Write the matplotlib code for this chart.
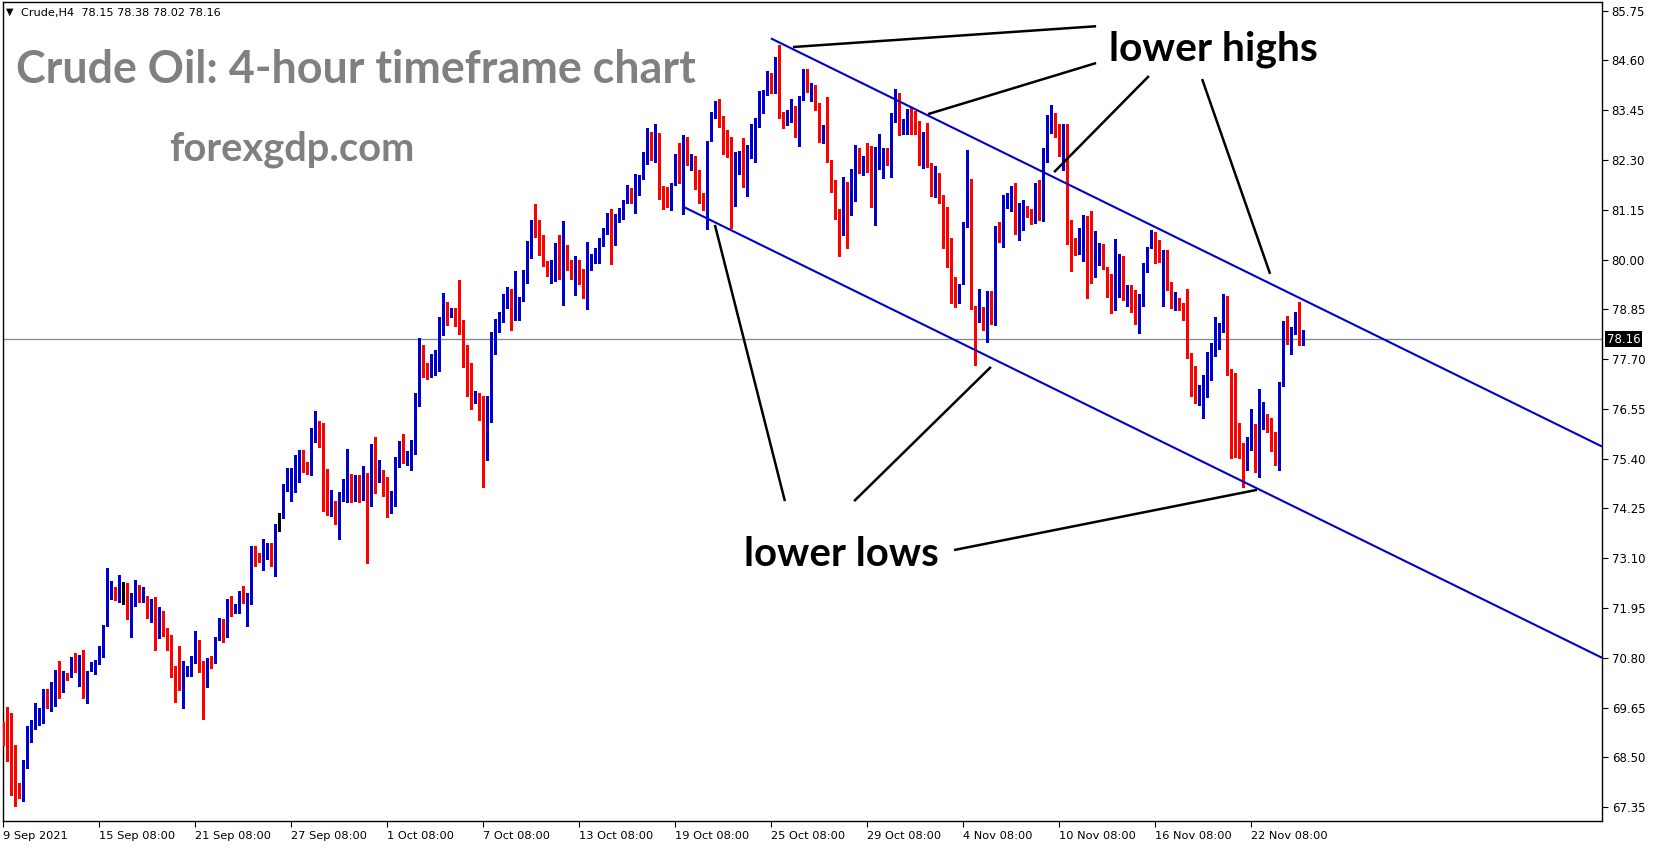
import matplotlib
matplotlib.use('Agg')
import matplotlib.pyplot as plt
import matplotlib.transforms as mtransforms
import numpy as np

W, H = 1653, 850

bar_open = [69.07, 68.99, 68.66, 68.61, 67.78, 67.73, 68.26, 69.04, 69.23, 69.34,
            69.39, 69.96, 69.73, 70.13, 70.44, 70.13, 70.39, 70.36, 70.75, 70.54,
            70.86, 69.94, 70.50, 70.63, 70.66, 70.92, 71.54, 72.33, 72.37, 72.19,
            72.48, 72.48, 71.96, 72.10, 72.27, 72.12, 72.18, 71.90, 72.15, 71.70,
            71.74, 71.49, 71.12, 70.50, 70.38, 70.09, 70.37, 70.52, 70.75, 71.10,
            70.52, 70.17, 70.78, 70.75, 71.21, 71.60, 71.37, 71.97, 71.83, 71.91,
            72.28, 72.14, 72.19, 73.31, 73.14, 73.06, 73.20, 73.41, 72.98, 73.87,
            74.14, 74.77, 74.79, 74.91, 75.18, 75.32, 75.26, 75.12, 75.91, 76.20,
            75.77, 74.60, 74.16, 74.42, 74.08, 74.59, 74.65, 75.02, 74.60, 74.91,
            74.58, 75.00, 74.58, 75.62, 74.89, 75.15, 74.65, 74.40, 74.55, 75.25,
            75.78, 75.42, 75.45, 75.58, 76.75, 77.91, 77.38, 77.32, 77.52, 77.66,
            78.60, 78.78, 78.74, 78.86, 78.76, 78.49, 77.72, 77.26, 76.72, 76.87,
            76.54, 75.48, 76.62, 77.89, 78.47, 78.68, 79.00, 79.29, 78.83, 78.92,
            79.06, 79.64, 80.33, 80.91, 80.76, 80.57, 79.96, 79.62, 79.95, 80.08,
            79.72, 79.93, 79.87, 79.74, 79.87, 79.49, 79.26, 79.91, 79.91, 80.01,
            80.33, 80.64, 81.03, 80.41, 80.95, 81.16, 81.31, 81.38, 81.31, 81.50,
            81.95, 82.31, 82.80, 82.47, 82.80, 81.47, 81.47, 81.26, 81.74, 82.37,
            81.89, 82.80, 82.28, 82.35, 81.85, 81.49, 81.30, 82.74, 83.32, 83.59,
            83.22, 82.85, 82.82, 81.37, 82.30, 82.44, 81.86, 82.49, 83.01, 83.07,
            83.64, 83.84, 84.24, 84.22, 84.62, 83.31, 83.32, 83.37, 83.54, 82.91,
            83.74, 84.26, 83.89, 83.98, 83.61, 82.91, 83.11, 82.27, 81.73, 81.16,
            80.76, 81.70, 81.24, 81.37, 82.47, 82.07, 82.28, 82.16, 81.41, 82.28,
            82.22, 82.51, 82.28, 83.17, 83.72, 83.01, 83.01, 83.47, 83.26, 83.15,
            82.47, 82.93, 82.22, 81.49, 81.76, 81.49, 80.99, 80.03, 79.37, 79.10,
            79.43, 80.76, 81.84, 78.93, 78.56, 78.72, 78.35, 78.99, 78.56, 80.70,
            80.28, 81.23, 81.36, 81.55, 80.77, 80.95, 81.17, 81.13, 81.05, 81.77,
            80.91, 82.31, 83.16, 83.34, 83.11, 82.57, 83.12, 80.46, 80.28, 80.18,
            80.37, 80.99, 80.04, 79.74, 80.10, 80.23, 79.82, 79.56, 79.14, 79.64,
            79.70, 79.14, 79.27, 78.87, 78.69, 78.92, 79.73, 80.26, 80.36, 80.22,
            80.05, 80.12, 79.47, 78.87, 78.96, 78.92, 78.85, 77.79, 77.53, 76.87,
            77.05, 77.05, 77.56, 77.99, 78.13, 78.33, 78.86, 77.47, 76.26, 75.87,
            75.56, 75.28, 75.60, 75.97, 75.72, 76.08, 76.26, 76.26, 75.69, 75.47,
            77.09, 78.41, 78.22, 78.37, 78.53, 78.15]

bar_high = [69.32, 69.67, 69.53, 68.79, 67.91, 68.44, 69.23, 69.36, 69.75, 69.65,
            70.08, 70.09, 70.25, 70.52, 70.73, 70.50, 70.46, 70.82, 70.90, 70.86,
            70.98, 70.50, 70.71, 70.75, 71.07, 71.56, 72.87, 72.57, 72.44, 72.71,
            72.56, 72.52, 72.29, 72.60, 72.48, 72.44, 72.23, 72.17, 72.20, 71.98,
            71.87, 71.49, 71.33, 70.60, 71.07, 70.73, 70.62, 70.84, 71.42, 71.21,
            70.73, 70.79, 70.84, 71.27, 71.71, 71.70, 72.15, 72.23, 72.04, 72.35,
            72.46, 72.29, 73.38, 73.38, 73.21, 73.55, 73.46, 73.45, 73.89, 74.14,
            74.81, 75.18, 75.18, 75.49, 75.60, 75.60, 75.32, 76.12, 76.50, 76.27,
            76.23, 75.16, 74.68, 74.42, 74.62, 74.93, 75.62, 75.04, 75.02, 75.02,
            75.23, 75.06, 75.74, 75.89, 75.37, 75.15, 74.98, 74.65, 75.43, 75.81,
            75.97, 75.58, 75.83, 76.92, 78.19, 78.02, 77.62, 77.82, 77.91, 78.68,
            79.22, 79.02, 78.89, 78.89, 79.53, 78.60, 78.02, 77.60, 76.97, 76.91,
            76.85, 76.85, 78.33, 78.62, 78.79, 79.20, 79.37, 79.31, 79.74, 79.13,
            79.76, 80.43, 80.91, 81.28, 80.91, 80.57, 79.96, 79.99, 80.39, 80.57,
            80.89, 80.33, 79.99, 80.08, 79.99, 79.79, 80.41, 80.14, 80.26, 80.49,
            80.72, 81.07, 81.16, 81.05, 81.18, 81.37, 81.73, 81.66, 81.97, 81.95,
            82.49, 83.03, 82.95, 83.13, 82.93, 81.70, 81.68, 81.77, 82.44, 82.70,
            82.87, 82.84, 82.45, 82.39, 82.07, 81.53, 82.74, 83.41, 83.67, 83.71,
            83.32, 83.00, 82.82, 82.49, 82.51, 82.80, 82.64, 83.14, 83.28, 83.90,
            83.91, 84.35, 84.30, 84.67, 84.95, 83.41, 83.45, 83.72, 83.54, 83.78,
            84.41, 84.41, 84.07, 84.03, 83.61, 83.11, 83.76, 82.30, 81.84, 81.16,
            81.91, 81.80, 82.10, 82.64, 82.57, 82.39, 82.70, 82.62, 82.60, 82.91,
            82.57, 82.57, 83.39, 83.95, 83.84, 83.24, 83.47, 83.53, 83.43, 83.20,
            82.95, 83.16, 82.22, 82.16, 81.99, 81.49, 81.22, 80.49, 79.60, 79.43,
            80.87, 82.53, 81.87, 78.93, 79.33, 78.91, 79.28, 79.28, 80.78, 80.87,
            81.50, 81.54, 81.70, 81.76, 81.31, 81.37, 81.23, 81.16, 81.77, 81.84,
            82.57, 83.34, 83.57, 83.38, 83.14, 83.14, 83.14, 80.91, 80.50, 80.72,
            81.03, 81.00, 81.13, 80.66, 80.39, 80.37, 79.83, 79.66, 80.47, 80.12,
            80.08, 79.41, 79.41, 79.29, 79.20, 79.91, 80.30, 80.68, 80.64, 80.45,
            80.23, 80.23, 79.49, 79.26, 79.12, 78.99, 79.32, 77.83, 77.53, 77.10,
            77.33, 77.87, 78.08, 78.68, 78.53, 79.20, 79.16, 77.47, 77.37, 76.22,
            75.76, 75.89, 76.55, 76.20, 77.02, 76.72, 76.43, 76.35, 76.02, 77.18,
            78.59, 78.70, 78.45, 78.80, 79.03, 78.38]

bar_low = [68.79, 68.42, 67.63, 67.38, 67.57, 67.50, 68.26, 68.86, 69.15, 69.25,
           69.30, 69.65, 69.58, 69.69, 69.88, 70.01, 70.29, 70.36, 70.47, 70.16,
           69.88, 69.76, 70.50, 70.43, 70.66, 70.81, 71.54, 72.16, 72.13, 72.10,
           72.04, 71.70, 71.29, 72.00, 72.08, 72.09, 71.73, 71.63, 70.98, 71.26,
           71.31, 70.98, 70.35, 69.79, 70.06, 69.65, 70.37, 70.38, 70.67, 70.48,
           69.38, 70.13, 70.56, 70.67, 71.20, 71.17, 71.29, 71.77, 71.83, 71.84,
           72.07, 71.54, 72.04, 72.93, 73.01, 72.83, 73.08, 72.91, 72.69, 73.73,
           74.04, 74.66, 74.43, 74.62, 74.87, 75.10, 75.05, 75.02, 75.79, 75.68,
           74.20, 74.10, 74.08, 73.89, 73.55, 74.43, 74.40, 74.40, 74.42, 74.40,
           74.45, 72.98, 74.30, 74.61, 74.87, 74.54, 74.05, 74.15, 74.30, 75.21,
           75.31, 75.25, 75.15, 75.51, 76.62, 77.29, 77.25, 77.28, 77.33, 77.43,
           78.26, 78.49, 78.68, 78.47, 78.29, 77.52, 76.85, 76.55, 76.68, 76.29,
           74.74, 75.37, 76.25, 77.82, 78.33, 78.56, 78.89, 78.37, 78.60, 78.60,
           79.05, 79.46, 80.04, 80.53, 80.10, 79.86, 79.62, 79.46, 79.51, 79.55,
           78.95, 79.76, 79.55, 79.18, 79.43, 79.12, 78.85, 79.77, 79.91, 79.91,
           80.32, 80.60, 79.89, 80.33, 80.87, 80.93, 81.30, 81.30, 81.08, 81.49,
           81.87, 82.20, 82.30, 82.26, 81.39, 81.16, 81.22, 81.14, 81.72, 81.76,
           81.05, 82.18, 82.08, 81.64, 81.30, 81.14, 80.70, 82.74, 83.28, 83.07,
           82.45, 82.36, 80.72, 81.24, 81.97, 81.68, 81.47, 82.34, 82.26, 83.07,
           83.38, 83.81, 83.85, 83.84, 83.28, 83.05, 83.12, 83.18, 82.82, 82.63,
           83.68, 83.88, 83.67, 83.45, 82.71, 82.70, 82.26, 81.57, 80.93, 80.09,
           80.56, 80.27, 81.03, 81.36, 82.00, 81.95, 82.03, 81.22, 80.80, 82.10,
           81.89, 82.18, 81.91, 83.17, 82.88, 82.90, 82.90, 82.91, 82.91, 82.18,
           82.12, 82.14, 81.47, 81.45, 81.30, 80.27, 79.83, 79.00, 78.91, 79.00,
           79.43, 80.76, 78.85, 77.56, 78.56, 78.37, 78.10, 78.51, 78.49, 80.41,
           80.28, 81.18, 81.13, 80.60, 80.45, 80.68, 80.99, 80.81, 80.85, 80.91,
           80.90, 82.26, 82.93, 82.84, 82.39, 82.08, 80.36, 79.74, 80.10, 80.14,
           79.97, 79.12, 79.47, 79.60, 79.87, 79.79, 79.14, 78.77, 78.83, 79.14,
           79.06, 78.92, 78.79, 78.52, 78.31, 78.92, 79.72, 80.26, 79.91, 79.95,
           78.92, 79.29, 78.87, 78.83, 78.83, 78.60, 77.72, 76.85, 76.69, 76.64,
           76.33, 76.83, 77.22, 77.77, 77.93, 78.33, 77.33, 75.41, 75.45, 75.41,
           74.75, 75.15, 75.60, 75.10, 74.98, 76.08, 76.02, 75.58, 75.25, 75.14,
           77.09, 78.05, 77.82, 78.28, 78.03, 78.02]

bar_close = [69.02, 68.61, 68.60, 67.73, 67.73, 68.30, 69.04, 69.25, 69.36, 69.39,
             69.96, 69.73, 70.15, 70.44, 70.13, 70.47, 70.37, 70.75, 70.52, 70.85,
             69.94, 70.47, 70.63, 70.70, 70.93, 71.56, 72.34, 72.48, 72.19, 72.48,
             72.48, 71.98, 72.11, 72.34, 72.11, 72.18, 71.89, 72.15, 71.70, 71.74,
             71.46, 71.10, 70.48, 70.39, 70.09, 70.52, 70.52, 70.77, 71.10, 70.48,
             70.17, 70.77, 70.77, 71.21, 71.58, 71.37, 71.94, 71.87, 71.92, 72.29,
             72.14, 72.20, 73.31, 73.14, 73.06, 73.21, 73.41, 73.00, 73.87, 73.87,
             74.79, 74.83, 74.91, 75.18, 75.32, 75.28, 75.12, 75.91, 76.18, 75.77,
             74.59, 74.10, 74.42, 74.08, 74.60, 74.66, 75.00, 74.47, 74.92, 74.58,
             75.00, 74.58, 75.60, 74.87, 75.15, 74.64, 74.40, 74.55, 75.25, 75.58,
             75.43, 75.46, 75.60, 76.75, 77.91, 77.43, 77.32, 77.54, 77.68, 78.62,
             78.78, 78.72, 78.86, 78.74, 78.47, 77.70, 77.22, 76.75, 76.87, 76.52,
             75.48, 76.62, 77.89, 78.56, 78.72, 79.02, 79.31, 78.85, 78.92, 79.05,
             79.64, 80.36, 80.91, 80.72, 80.53, 79.96, 79.62, 79.95, 80.08, 79.72,
             79.91, 79.89, 79.74, 79.85, 79.46, 79.26, 79.93, 80.00, 80.01, 80.36,
             80.66, 81.03, 80.41, 80.97, 81.18, 81.31, 81.39, 81.31, 81.50, 81.83,
             82.32, 82.80, 82.49, 82.80, 81.43, 81.41, 81.28, 81.76, 82.40, 81.90,
             82.80, 82.32, 82.35, 81.85, 81.49, 81.30, 82.74, 83.36, 83.59, 83.21,
             82.84, 82.78, 81.37, 82.37, 82.44, 81.86, 82.30, 83.01, 83.08, 83.85,
             83.81, 84.21, 84.20, 84.61, 83.30, 83.28, 83.36, 83.53, 82.93, 83.74,
             84.24, 84.01, 84.01, 83.61, 82.93, 83.11, 82.26, 81.58, 81.14, 80.76,
             81.74, 81.24, 81.40, 82.57, 82.08, 82.28, 82.16, 81.43, 82.30, 82.53,
             82.51, 82.41, 83.17, 83.70, 83.01, 83.13, 83.45, 83.25, 83.15, 82.47,
             82.93, 82.26, 81.49, 81.76, 81.49, 81.00, 80.01, 79.26, 79.16, 79.43,
             80.78, 81.82, 78.91, 78.64, 78.72, 78.56, 78.99, 78.56, 80.72, 80.51,
             81.23, 81.36, 81.55, 80.78, 80.99, 81.30, 81.10, 81.04, 81.77, 80.91,
             82.32, 83.27, 83.34, 83.09, 82.57, 83.12, 80.46, 80.16, 80.20, 80.37,
             80.99, 80.04, 79.74, 80.16, 80.23, 79.82, 79.49, 79.14, 79.64, 79.78,
             79.14, 79.27, 78.83, 78.69, 78.95, 79.87, 80.26, 80.36, 80.22, 80.06,
             80.12, 79.51, 78.99, 78.96, 78.91, 78.83, 77.76, 77.20, 76.87, 77.05,
             77.07, 77.56, 78.00, 78.20, 78.33, 78.86, 77.47, 76.26, 75.85, 75.52,
             75.28, 75.60, 75.98, 75.72, 76.14, 76.22, 76.22, 75.69, 75.49, 77.10,
             78.41, 78.36, 78.39, 78.53, 78.16, 78.16]

price_ticks = [67.35, 68.50, 69.65, 70.80, 71.95, 73.10, 74.25, 75.40, 76.55,
               77.70, 78.85, 80.00, 81.15, 82.30, 83.45, 84.60, 85.75]
date_tick_bars = [0, 24, 48, 72, 96, 120, 144, 168, 192, 216, 240, 264, 288, 312]
date_tick_labels = ['9 Sep 2021', '15 Sep 08:00', '21 Sep 08:00', '27 Sep 08:00',
                    '1 Oct 08:00', '7 Oct 08:00', '13 Oct 08:00', '19 Oct 08:00',
                    '25 Oct 08:00', '29 Oct 08:00', '4 Nov 08:00', '10 Nov 08:00',
                    '16 Nov 08:00', '22 Nov 08:00']
last_price = 78.16
header_text = 'Crude,H4  78.15 78.38 78.02 78.16'

# channel (bar index, price)
upper_channel_x = [191.9, 399.7]
upper_channel_y = [85.11, 75.68]
lower_channel_x = [170.0, 399.7]
lower_channel_y = [81.22, 70.80]

# annotation pointer lines (bar index, price)
pointer_lines = [
    ([197.4, 273.2], [84.91, 85.39]),
    ([231.2, 273.2], [83.36, 84.54]),
    ([262.7, 286.4], [82.02, 84.24]),
    ([299.7, 316.7], [84.17, 79.67]),
    ([177.9, 195.4], [80.80, 74.42]),
    ([212.7, 246.9], [74.42, 77.52]),
    ([237.7, 313.4], [73.29, 74.68]),
]

BLUE = '#0000CD'
RED = '#FF0000'

fig = plt.figure(figsize=(W / 100, H / 100), dpi=100)
fig.patch.set_facecolor('white')
ax = fig.add_axes([3 / W, 1 - 821 / H, (1602 - 3) / W, (821 - 2) / H])
ax.set_facecolor('white')

o = np.array(bar_open)
hh = np.array(bar_high)
ll = np.array(bar_low)
c = np.array(bar_close)
idx = np.arange(len(o))
cols = np.where(np.abs(c - o) < 0.005, 'black', np.where(c > o, BLUE, RED))

ax.vlines(idx, ll, hh, colors=cols, linewidth=0.8, antialiased=False, zorder=3)
body_bottom = np.minimum(o, c)
body_h = np.maximum(np.abs(c - o), 0.03)
ax.bar(idx, body_h, bottom=body_bottom, width=0.8, color=cols, linewidth=0,
       antialiased=False, zorder=4)

ax.axhline(last_price, color='#778899', linewidth=0.9, zorder=2)

ax.plot(upper_channel_x, upper_channel_y, color='#0000CC', linewidth=1.5, zorder=5,
        solid_capstyle='butt')
ax.plot(lower_channel_x, lower_channel_y, color='#0000CC', linewidth=1.5, zorder=5,
        solid_capstyle='butt')
for px, py in pointer_lines:
    ax.plot(px, py, color='black', linewidth=1.8, zorder=6, solid_capstyle='butt')

ax.set_xlim(-0.075, 399.675)
ax.set_ylim(67.03, 85.95)

ax.yaxis.tick_right()
ax.set_yticks(price_ticks)
ax.set_yticklabels([f'{v:.2f}' for v in price_ticks])
ax.tick_params(axis='y', direction='out', length=4, width=0.8, pad=3,
               labelsize=8.5, colors='black')
ax.set_xticks(date_tick_bars)
ax.set_xticklabels(date_tick_labels)
ax.tick_params(axis='x', direction='out', length=4, width=0.8, pad=3,
               labelsize=8.2)
for lab in ax.get_xticklabels():
    lab.set_horizontalalignment('left')
    lab.set_family('DejaVu Sans')
for lab in ax.get_yticklabels():
    lab.set_family('DejaVu Sans')
for s in ax.spines.values():
    s.set_color('black')
    s.set_linewidth(1.0)

# current price tag
ax.annotate(f'{last_price:.2f}', xy=(1.0, last_price),
            xycoords=mtransforms.blended_transform_factory(ax.transAxes, ax.transData),
            xytext=(3.5, 0), textcoords='offset points', ha='left', va='center',
            fontsize=8.5, color='white', family='DejaVu Sans',
            bbox=dict(facecolor='black', edgecolor='none', pad=1.2))

renderer = fig.canvas.get_renderer()


def fit_text(x_px, base_px, s, target_w, **kw):
    t = fig.text(x_px / W, 1 - base_px / H, s, ha='left', va='baseline',
                 fontsize=30, **kw)
    w = t.get_window_extent(renderer=renderer).width
    t.set_fontsize(30 * target_w / w)
    return t


fit_text(16, 83, 'Crude Oil: 4-hour timeframe chart', 680,
         family='Lato', weight='bold', color='#808080')
fit_text(169, 160, 'forexgdp.com', 245, family='Lato', weight='bold', color='#808080')
fit_text(1109, 61, 'lower highs', 209, family='Lato', weight='bold', color='black')
fit_text(744, 566, 'lower lows', 194, family='Lato', weight='bold', color='black')

fig.text(6 / W, 1 - 12 / H, '\u25BC', ha='left', va='center', fontsize=7,
         family='DejaVu Sans', color='black')
fit_text(21, 16, header_text, 199, family='DejaVu Sans', color='black')

fig.savefig('out.png', dpi=100, facecolor='white')
